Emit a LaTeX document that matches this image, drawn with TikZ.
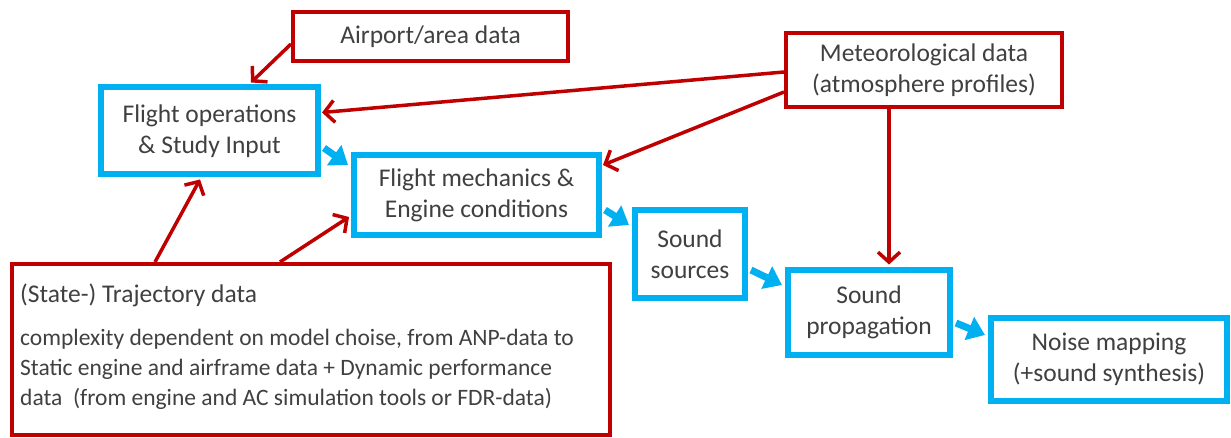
\documentclass[tikz,border=0pt]{standalone}
\usepackage{fontspec}
\setmainfont{Carlito}
\usetikzlibrary{arrows.meta}
\definecolor{datared}{HTML}{C00000}
\definecolor{procblue}{HTML}{00B0F0}
\definecolor{ink}{HTML}{404040}

\begin{document}
\begin{tikzpicture}[x=1pt,y=-1pt,
  every node/.style={font=\fontsize{25.5}{31}\selectfont, text=ink, inner sep=0pt, align=center},
  redbox/.style={draw=datared, line width=4pt},
  bluebox/.style={draw=procblue, line width=6pt},
  trajline/.style={anchor=base west, font=\fontsize{23.5}{30}\selectfont},
  feed/.style={draw=datared, line width=3.5pt, -{Straight Barb[length=10pt,width=22pt]}},
  flow/.style={draw=procblue, line width=7pt, -{Triangle[length=17pt,width=24pt]}},
]
\useasboundingbox (0,0) rectangle (1231,438);
\fill[white] (0,0) rectangle (1231,438);

% input data (red)
\node[redbox, minimum width=275pt, minimum height=49pt] (airport) at (430.5,37) {Airport/area data};
\node[redbox, minimum width=276pt, minimum height=74pt] (met) at (924,70) {Meteorological data\\(atmosphere profiles)};
\node[redbox, minimum width=598pt, minimum height=171pt] (traj) at (311,349.5) {};
\node[anchor=base west] (trajtitle) at ([xshift=10pt,yshift=-40pt]traj.north west) {(State-) Trajectory data};
\node[trajline] (traj1) at ([yshift=-43pt]trajtitle.base west) {complexity dependent on model choise, from ANP-data to};
\node[trajline] (traj2) at ([yshift=-30pt]traj1.base west) {Static engine and airframe data + Dynamic performance};
\node[trajline] (traj3) at ([yshift=-30pt]traj2.base west) {data~ (from engine and AC simulation tools or FDR-data)};

% processing chain (blue)
\node[bluebox, minimum width=217pt, minimum height=87pt] (fops) at (209.5,131) {Flight operations\\\& Study Input};
\node[bluebox, minimum width=245pt, minimum height=80pt] (fmech) at (476.5,195.5) {Flight mechanics \&\\Engine conditions};
\node[bluebox, minimum width=110pt, minimum height=87pt] (src) at (690,254) {Sound\\sources};
\node[bluebox, minimum width=162pt, minimum height=84pt] (prop) at (869,312.5) {Sound\\propagation};
\node[bluebox, minimum width=236pt, minimum height=83pt] (noise) at (1109,359.5) {Noise mapping\\(+sound synthesis)};

% data feeds
\draw[feed] ([yshift=-7pt]airport.west) -- ([xshift=41.5pt,yshift=2pt]fops.north);
\draw[feed] ([yshift=-2pt]met.west) -- ([xshift=1pt,yshift=18.5pt]fops.east);
\draw[feed] ([yshift=-22pt]met.west) -- ([xshift=1pt,yshift=30.5pt]fmech.east);
\draw[feed] ([xshift=-35pt]met.south) -- ([xshift=20pt,yshift=3pt]prop.north);
\draw[feed] ([xshift=-156pt]traj.north) -- ([xshift=-9.5pt,yshift=-2pt]fops.south);
\draw[feed] ([xshift=-31pt]traj.north) -- ([xshift=-2pt,yshift=-21.5pt]fmech.west);

% processing flow
\draw[flow] ([xshift=3pt,yshift=-17pt]fops.east) -- ([xshift=-3pt,yshift=30.5pt]fmech.west);
\draw[flow] ([xshift=3pt,yshift=-14.5pt]fmech.east) -- ([xshift=-3pt,yshift=29pt]src.west);
\draw[flow] ([xshift=3pt,yshift=-16pt]src.east) -- ([xshift=-3pt,yshift=27.5pt]prop.west);
\draw[flow] ([xshift=3pt,yshift=-10.5pt]prop.east) -- ([xshift=-3pt,yshift=24.5pt]noise.west);
\end{tikzpicture}
\end{document}
